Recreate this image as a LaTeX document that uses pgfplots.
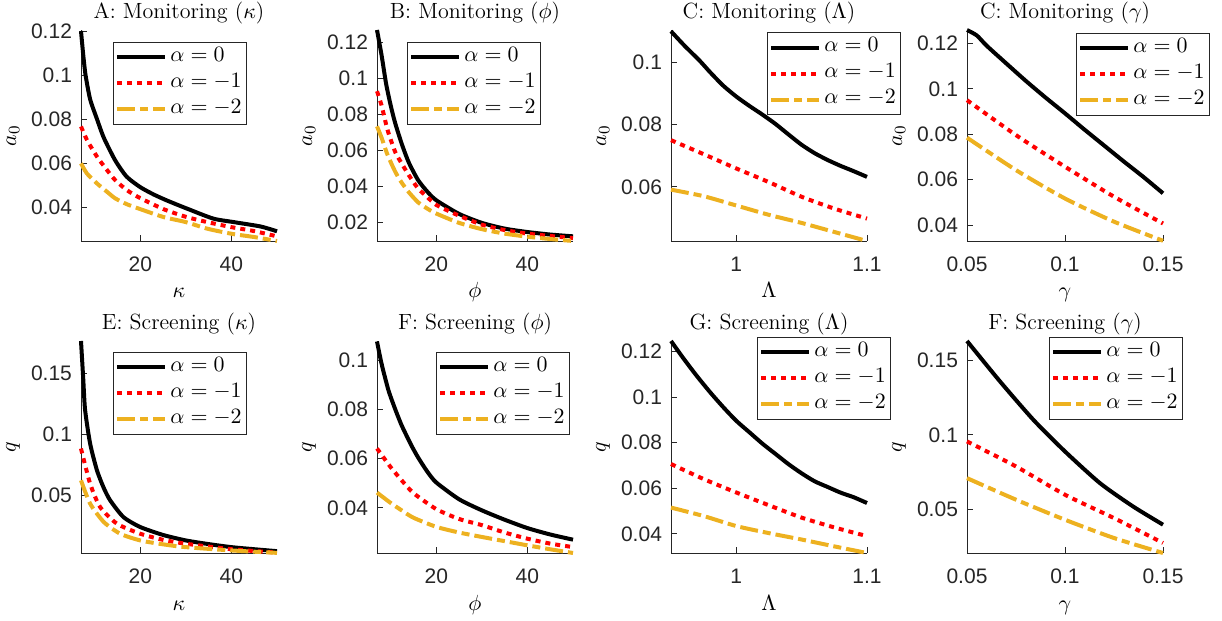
\documentclass[border=0pt]{standalone}
\usepackage{fontspec}
\usepackage{pgfplots}
\pgfplotsset{compat=1.18}
\newfontfamily\helv{Liberation Sans}
\definecolor{axgray}{RGB}{38,38,38}
\definecolor{mred}{RGB}{255,0,0}
\definecolor{morange}{RGB}{237,177,32}
\pgfplotsset{
  panel/.style={
    scale only axis, width=98pt, height=105.5pt, anchor=north west,
    axis x line*=bottom, axis y line*=left,
    axis line style={-, color=axgray, line width=0.4pt},
    tick align=inside, major tick length=3pt,
    tick style={color=axgray, line width=0.4pt},
    ticklabel style={font=\helv\fontsize{10.5}{12}\selectfont, color=axgray},
    xticklabel style={yshift=-4.3pt},
    yticklabel style={xshift=-1pt},
    /pgf/number format/assume math mode=true,
    /pgf/number format/fixed, /pgf/number format/precision=3,
    scaled ticks=false,
    clip=false,
    every axis title/.style={at={(0.5,1.028)}, anchor=south, inner sep=0pt, font=\fontsize{11}{13}\selectfont},
    every axis x label/.style={at={(axis description cs:0.5,-0.27)}, anchor=base, font=\fontsize{11}{13}\selectfont},
    every axis y label/.style={at={(axis description cs:-0.347,0.5)}, rotate=90, anchor=center, font=\fontsize{11}{13}\selectfont},
    legend cell align=left,
    legend image code/.code={\draw[##1] (0pt,0pt) -- (24pt,0pt);},
    legend style={anchor=north west, draw=axgray, line width=0.4pt, fill=white,
      font=\fontsize{10.5}{12}\selectfont, inner xsep=1pt, inner ysep=1pt,
      row sep=0pt, column sep=0pt,
      nodes={inner xsep=1.5pt, inner ysep=1pt, text height=7.5pt, text depth=3.5pt}},
  },
  s0/.style={black, line width=2pt, solid, smooth, tension=0.4},
  s1/.style={mred, line width=2pt, line cap=butt, dash pattern=on 2.5pt off 2.5pt, smooth, tension=0.4},
  s2/.style={morange, line width=2pt, line cap=butt, dash pattern=on 9pt off 2.5pt on 4pt off 2.5pt, smooth, tension=0.4},
}
\begin{document}
\begin{tikzpicture}
\path[use as bounding box] (0,0) rectangle (611pt,310.5pt);
% A
\begin{axis}[panel, at={(40.5pt,295.5pt)}, xmin=7, xmax=50, ymin=0.0245, ymax=0.1205,
  xtick={20,40}, ytick={0.04,0.06,0.08,0.1,0.12},
  title={A: Monitoring ($\kappa$)}, xlabel={$\kappa$}, ylabel={$a_0$},
  legend style={at={(0.163,0.943)}}]
\addplot[s0] coordinates {(7,0.120) (7.5,0.109) (8,0.100) (9,0.089) (10.5,0.080) (12,0.0715) (14.5,0.0612) (17,0.0538) (20,0.0490) (23,0.0456) (26,0.0428) (30.3,0.0392) (36,0.0347) (40.5,0.0331) (46.4,0.0311) (50,0.0289)};
\addplot[s1] coordinates {(7,0.0766) (8.3,0.0705) (10.5,0.0629) (12.7,0.0568) (14.5,0.0522) (17.1,0.0476) (20,0.0440) (25.1,0.0390) (30,0.0355) (34.7,0.0331) (40,0.0308) (45,0.0290) (50,0.0266)};
\addplot[s2] coordinates {(7,0.0598) (8.3,0.0552) (10.5,0.0507) (12.7,0.0469) (14.5,0.0439) (17.1,0.0412) (20,0.0390) (25.1,0.0354) (30,0.0331) (34.7,0.0301) (40,0.0278) (45,0.0263) (50,0.0245)};
\addlegendentry{$\alpha=0$}
\addlegendentry{$\alpha=-1$}
\addlegendentry{$\alpha=-2$}
\end{axis}
% B
\begin{axis}[panel, at={(188.5pt,295.5pt)}, xmin=7, xmax=50, ymin=0.0094, ymax=0.127,
  xtick={20,40}, ytick={0.02,0.04,0.06,0.08,0.1,0.12},
  title={B: Monitoring ($\phi$)}, xlabel={$\phi$}, ylabel={$a_0$},
  legend style={at={(0.153,0.943)}}]
\addplot[s0] coordinates {(7,0.127) (8,0.113) (9,0.097) (10,0.085) (11,0.075) (12.5,0.063) (14,0.053) (16,0.0434) (18,0.037) (20,0.0321) (25,0.0245) (30,0.0195) (35,0.0163) (40,0.0144) (45,0.0130) (50,0.0120)};
\addplot[s1] coordinates {(7,0.0929) (8,0.085) (9.3,0.0714) (11,0.059) (12.4,0.0527) (14,0.046) (16,0.0387) (18,0.034) (20,0.0295) (25,0.0235) (30,0.0185) (35,0.0155) (40,0.0135) (45,0.0122) (50,0.0110)};
\addplot[s2] coordinates {(7,0.0733) (8,0.067) (9.3,0.0575) (11,0.048) (12.4,0.042) (14,0.0365) (16,0.031) (18,0.0275) (20,0.0247) (25,0.0195) (30,0.016) (35,0.0135) (40,0.0118) (45,0.0105) (50,0.0094)};
\addlegendentry{$\alpha=0$}
\addlegendentry{$\alpha=-1$}
\addlegendentry{$\alpha=-2$}
\end{axis}
% C
\begin{axis}[panel, at={(335.5pt,295.5pt)}, xmin=0.95, xmax=1.1, ymin=0.0426, ymax=0.1104,
  xtick={1,1.1}, ytick={0.06,0.08,0.1},
  title={C: Monitoring ($\Lambda$)}, xlabel={$\Lambda$}, ylabel={$a_0$},
  legend style={at={(0.49,0.99)}}]
\addplot[s0] coordinates {(0.95,0.110) (0.96,0.1055) (0.972,0.1005) (0.98,0.0968) (0.99,0.0925) (1.0,0.0890) (1.01,0.0860) (1.02,0.0832) (1.03,0.0802) (1.04,0.0768) (1.05,0.0735) (1.06,0.0708) (1.07,0.0686) (1.08,0.0667) (1.09,0.0650) (1.1,0.0632)};
\addplot[s1] coordinates {(0.95,0.0750) (0.975,0.0705) (1.0,0.0659) (1.025,0.0615) (1.05,0.0568) (1.075,0.0530) (1.1,0.0498)};
\addplot[s2] coordinates {(0.95,0.0591) (0.975,0.0570) (1.0,0.0540) (1.025,0.0510) (1.05,0.0484) (1.075,0.0455) (1.1,0.0426)};
\addlegendentry{$\alpha=0$}
\addlegendentry{$\alpha=-1$}
\addlegendentry{$\alpha=-2$}
\end{axis}
% D
\begin{axis}[panel, at={(483.5pt,295.5pt)}, xmin=0.05, xmax=0.15, ymin=0.033, ymax=0.1259,
  xtick={0.05,0.1,0.15}, ytick={0.04,0.06,0.08,0.1,0.12},
  title={C: Monitoring ($\gamma$)}, xlabel={$\gamma$}, ylabel={$a_0$},
  legend style={at={(0.556,0.986)}}]
\addplot[s0] coordinates {(0.05,0.1259) (0.055,0.1235) (0.06,0.119) (0.07,0.1112) (0.08,0.1035) (0.09,0.0962) (0.1,0.0892) (0.11,0.0820) (0.12,0.0750) (0.13,0.0680) (0.14,0.0612) (0.15,0.054)};
\addplot[s1] coordinates {(0.05,0.095) (0.075,0.0796) (0.1,0.0657) (0.125,0.0525) (0.15,0.0407)};
\addplot[s2] coordinates {(0.05,0.0785) (0.075,0.0642) (0.1,0.0517) (0.125,0.0415) (0.15,0.0331)};
\addlegendentry{$\alpha=0$}
\addlegendentry{$\alpha=-1$}
\addlegendentry{$\alpha=-2$}
\end{axis}
% E
\begin{axis}[panel, at={(40.5pt,140pt)}, height=106pt, xmin=7, xmax=50, ymin=0.0027, ymax=0.1766,
  xtick={20,40}, ytick={0.05,0.1,0.15},
  title={E: Screening ($\kappa$)}, xlabel={$\kappa$}, ylabel={$q$},
  legend style={at={(0.163,0.948)}}]
\addplot[s0] coordinates {(7,0.1766) (7.5,0.145) (7.9,0.12) (9,0.0925) (10.5,0.0705) (12,0.056) (13.4,0.0459) (16.3,0.0322) (20,0.024) (25,0.0175) (30,0.013) (35,0.010) (40,0.0075) (45,0.0058) (50,0.0042)};
\addplot[s1] coordinates {(7,0.0884) (9,0.0596) (11.2,0.0404) (14.9,0.0267) (20,0.0185) (25,0.0135) (30,0.0103) (40,0.0058) (50,0.0030)};
\addplot[s2] coordinates {(7,0.0623) (9,0.0432) (12,0.0281) (15.6,0.0185) (20,0.013) (25,0.0098) (30,0.0075) (40,0.0048) (50,0.0028)};
\addlegendentry{$\alpha=0$}
\addlegendentry{$\alpha=-1$}
\addlegendentry{$\alpha=-2$}
\end{axis}
% F
\begin{axis}[panel, at={(188.5pt,140pt)}, height=106pt, xmin=7, xmax=50, ymin=0.0217, ymax=0.1077,
  xtick={20,40}, ytick={0.04,0.06,0.08,0.1},
  title={F: Screening ($\phi$)}, xlabel={$\phi$}, ylabel={$q$},
  legend style={at={(0.301,0.948)}}]
\addplot[s0] coordinates {(7,0.1075) (8,0.0985) (9.5,0.0878) (11,0.080) (12.4,0.0735) (14.5,0.0655) (16,0.0605) (18,0.0548) (20,0.0503) (25,0.0435) (30,0.039) (35,0.0352) (40,0.0318) (45,0.0292) (50,0.0271)};
\addplot[s1] coordinates {(7,0.0641) (10,0.0565) (12.4,0.0512) (15,0.0460) (20,0.0395) (25,0.0355) (30,0.033) (35,0.030) (40,0.0275) (45,0.0255) (50,0.0241)};
\addplot[s2] coordinates {(7,0.0462) (10,0.0420) (12.4,0.039) (15,0.0360) (20,0.0323) (25,0.030) (30,0.0282) (35,0.0265) (40,0.0248) (45,0.0232) (50,0.0217)};
\addlegendentry{$\alpha=0$}
\addlegendentry{$\alpha=-1$}
\addlegendentry{$\alpha=-2$}
\end{axis}
% G
\begin{axis}[panel, at={(335.5pt,140pt)}, height=106pt, xmin=0.95, xmax=1.1, ymin=0.0316, ymax=0.1245,
  xtick={1,1.1}, ytick={0.04,0.06,0.08,0.1,0.12},
  title={G: Screening ($\Lambda$)}, xlabel={$\Lambda$}, ylabel={$q$},
  legend style={at={(0.439,1.019)}}]
\addplot[s0] coordinates {(0.95,0.1245) (0.96,0.1165) (0.97,0.109) (0.98,0.102) (0.99,0.0955) (1.0,0.0895) (1.01,0.0845) (1.02,0.0795) (1.03,0.075) (1.04,0.0705) (1.05,0.0665) (1.06,0.0630) (1.07,0.0605) (1.08,0.0580) (1.09,0.0560) (1.1,0.0535)};
\addplot[s1] coordinates {(0.95,0.0706) (0.975,0.0640) (1.0,0.0581) (1.025,0.0525) (1.05,0.0471) (1.075,0.0428) (1.1,0.039)};
\addplot[s2] coordinates {(0.95,0.0515) (0.975,0.0478) (1.0,0.0434) (1.025,0.0403) (1.05,0.0375) (1.075,0.0345) (1.1,0.0316)};
\addlegendentry{$\alpha=0$}
\addlegendentry{$\alpha=-1$}
\addlegendentry{$\alpha=-2$}
\end{axis}
% H
\begin{axis}[panel, at={(483.5pt,140pt)}, height=106pt, xmin=0.05, xmax=0.15, ymin=0.0211, ymax=0.1627,
  xtick={0.05,0.1,0.15}, ytick={0.05,0.1,0.15},
  title={F: Screening ($\gamma$)}, xlabel={$\gamma$}, ylabel={$q$},
  legend style={at={(0.418,1.019)}}]
\addplot[s0] coordinates {(0.05,0.1627) (0.0669,0.1356) (0.0839,0.110) (0.1,0.0889) (0.1178,0.0678) (0.1347,0.0522) (0.15,0.040)};
\addplot[s1] coordinates {(0.05,0.0956) (0.075,0.0789) (0.1,0.060) (0.125,0.0444) (0.15,0.0278)};
\addplot[s2] coordinates {(0.05,0.0711) (0.075,0.0567) (0.1,0.0433) (0.125,0.0311) (0.15,0.0211)};
\addlegendentry{$\alpha=0$}
\addlegendentry{$\alpha=-1$}
\addlegendentry{$\alpha=-2$}
\end{axis}
\end{tikzpicture}
\end{document}
